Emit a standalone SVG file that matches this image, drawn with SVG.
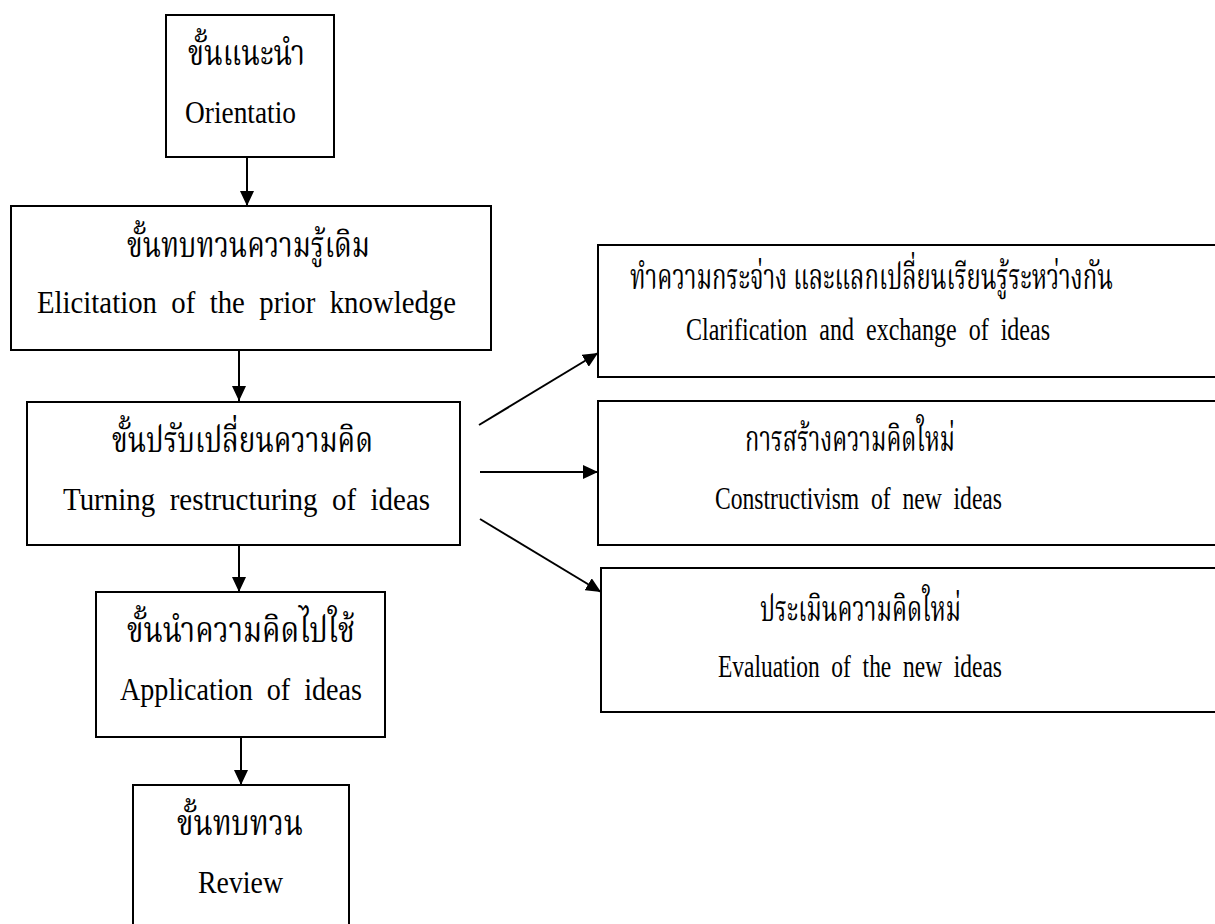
<svg xmlns="http://www.w3.org/2000/svg" width="1215" height="924" viewBox="0 0 1215 924">
<style>
.box{fill:#fff;stroke:#000;stroke-width:2}
.th{font-family:"Liberation Serif","Noto Serif Thai","Noto Sans Thai","Noto Sans",serif;font-size:35px;fill:#000}
.en{font-family:"Liberation Serif",serif;font-size:32px;fill:#000;word-spacing:8px}
.con{stroke:#000;stroke-width:2;fill:none;marker-end:url(#ah)}
</style>
<defs>
<marker id="ah" markerUnits="userSpaceOnUse" markerWidth="16" markerHeight="14" refX="15" refY="7" orient="auto">
<path d="M0,0 L15,7 L0,14 Z" fill="#000"/>
</marker>
</defs>
<rect width="1215" height="924" fill="#fff"/>
<g id="n1">
<rect class="box" x="166" y="15" width="168" height="142"/>
<text class="th" x="188" y="65" textLength="117" lengthAdjust="spacingAndGlyphs">ขั้นแนะนำ</text>
<text class="en" x="185" y="123" textLength="111" lengthAdjust="spacingAndGlyphs">Orientatio</text>
</g>
<g id="n2">
<rect class="box" x="11" y="206" width="480" height="144"/>
<text class="th" x="127" y="257" textLength="243" lengthAdjust="spacingAndGlyphs">ขั้นทบทวนความรู้เดิม</text>
<text class="en" x="37" y="313" textLength="419" lengthAdjust="spacingAndGlyphs">Elicitation of the prior knowledge</text>
</g>
<g id="n3">
<rect class="box" x="27" y="402" width="433" height="143"/>
<text class="th" x="112" y="452" textLength="261" lengthAdjust="spacingAndGlyphs">ขั้นปรับเปลี่ยนความคิด</text>
<text class="en" x="63" y="510" textLength="367" lengthAdjust="spacingAndGlyphs">Turning restructuring of ideas</text>
</g>
<g id="n4">
<rect class="box" x="96" y="592" width="289" height="145"/>
<text class="th" x="127" y="642" textLength="228" lengthAdjust="spacingAndGlyphs">ขั้นนำความคิดไปใช้</text>
<text class="en" x="120" y="700" textLength="242" lengthAdjust="spacingAndGlyphs">Application of ideas</text>
</g>
<g id="n5">
<rect class="box" x="133" y="785" width="216" height="160"/>
<text class="th" x="177" y="835" textLength="126" lengthAdjust="spacingAndGlyphs">ขั้นทบทวน</text>
<text class="en" x="198" y="893" textLength="85" lengthAdjust="spacingAndGlyphs">Review</text>
</g>
<g id="r1">
<rect class="box" x="598" y="245" width="640" height="132"/>
<text class="th" x="630" y="289" textLength="483" lengthAdjust="spacingAndGlyphs">ทำความกระจ่าง และแลกเปลี่ยนเรียนรู้ระหว่างกัน</text>
<text class="en" x="686" y="340" textLength="364" lengthAdjust="spacingAndGlyphs">Clarification and exchange of ideas</text>
</g>
<g id="r2">
<rect class="box" x="598" y="401" width="640" height="144"/>
<text class="th" x="745" y="451" textLength="210" lengthAdjust="spacingAndGlyphs">การสร้างความคิดใหม่</text>
<text class="en" x="715" y="509" textLength="287" lengthAdjust="spacingAndGlyphs">Constructivism of new ideas</text>
</g>
<g id="r3">
<rect class="box" x="601" y="568" width="640" height="144"/>
<text class="th" x="760" y="621" textLength="201" lengthAdjust="spacingAndGlyphs">ประเมินความคิดใหม่</text>
<text class="en" x="718" y="677" textLength="284" lengthAdjust="spacingAndGlyphs">Evaluation of the new ideas</text>
</g>
<g id="connectors">
<line class="con" x1="247" y1="157" x2="247" y2="206"/>
<line class="con" x1="239" y1="350" x2="239" y2="401"/>
<line class="con" x1="239" y1="545" x2="239" y2="592"/>
<line class="con" x1="241" y1="737" x2="241" y2="785"/>
<line class="con" x1="479" y1="425" x2="598" y2="353"/>
<line class="con" x1="480" y1="472" x2="598" y2="472"/>
<line class="con" x1="480" y1="519" x2="601" y2="592"/>
</g>
</svg>
